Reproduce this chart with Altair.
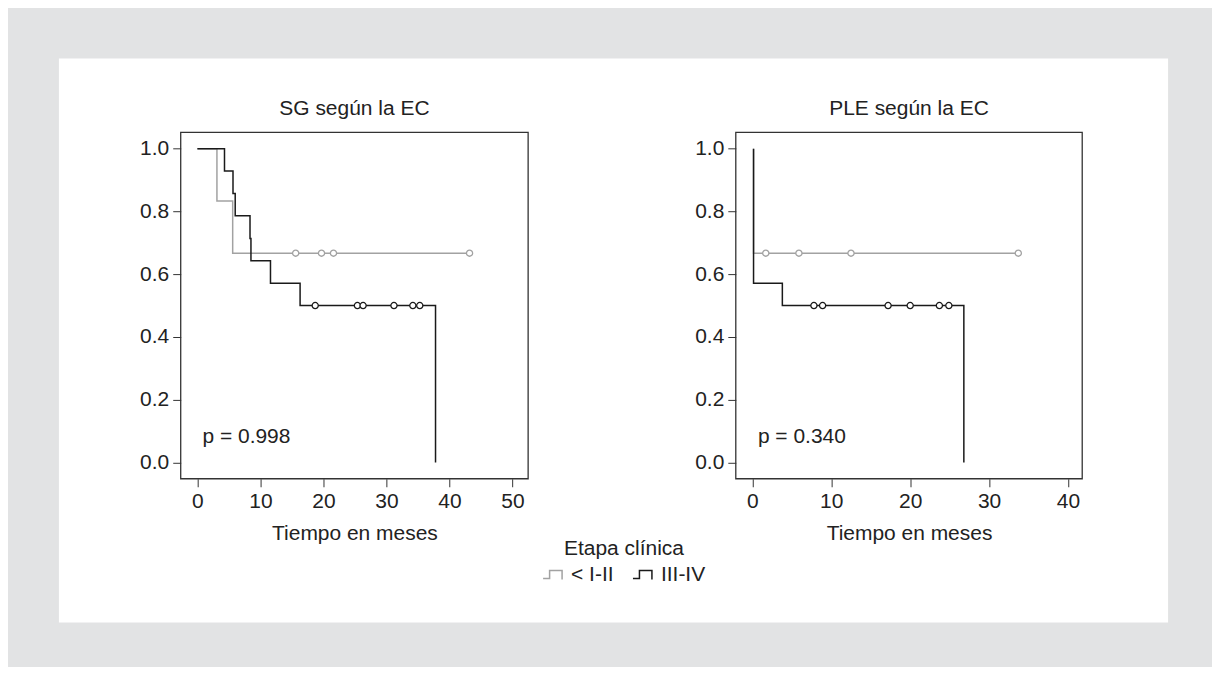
import altair as alt
import pandas as pd

FONT = "Liberation Sans"
FS = 21
GROUPS = ["< I-II", "III-IV"]
COLORS = ["#a2a2a2", "#1a1a1a"]

# --- SG según la EC (left) ---
sg_low_t = [0.0, 3.1, 5.6, 43.2]
sg_low_s = [1.0, 0.833, 0.667, 0.667]
sg_low_cens_t = [15.6, 19.7, 21.6, 43.2]
sg_low_cens_s = [0.667, 0.667, 0.667, 0.667]
sg_high_t = [0.0, 4.3, 5.65, 6.0, 8.35, 8.5, 11.6, 16.3, 37.8]
sg_high_s = [1.0, 0.929, 0.857, 0.786, 0.714, 0.643, 0.571, 0.5, 0.0]
sg_high_cens_t = [18.7, 25.4, 26.3, 31.2, 34.2, 35.3]
sg_high_cens_s = [0.5, 0.5, 0.5, 0.5, 0.5, 0.5]
sg_p = "p = 0.998"

# --- PLE según la EC (right) ---
ple_low_t = [0.15, 0.15, 33.7]
ple_low_s = [1.0, 0.667, 0.667]
ple_low_cens_t = [1.7, 5.9, 12.5, 33.7]
ple_low_cens_s = [0.667, 0.667, 0.667, 0.667]
ple_high_t = [0.15, 0.15, 3.8, 26.8]
ple_high_s = [1.0, 0.571, 0.5, 0.0]
ple_high_cens_t = [7.8, 8.9, 17.2, 20.0, 23.7, 24.9]
ple_high_cens_s = [0.5, 0.5, 0.5, 0.5, 0.5, 0.5]
ple_p = "p = 0.340"

x_ticks_sg = [0, 10, 20, 30, 40, 50]
x_ticks_ple = [0, 10, 20, 30, 40]
y_ticks = [0.0, 0.2, 0.4, 0.6, 0.8, 1.0]


def curve_df(t_low, s_low, t_high, s_high):
    rows = []
    for g, ts, ss in [(GROUPS[0], t_low, s_low), (GROUPS[1], t_high, s_high)]:
        for i, (t, s) in enumerate(zip(ts, ss)):
            rows.append({"group": g, "t": t, "s": s, "idx": i})
    return pd.DataFrame(rows)


def cens_df(t_low, s_low, t_high, s_high):
    rows = []
    for g, ts, ss in [(GROUPS[0], t_low, s_low), (GROUPS[1], t_high, s_high)]:
        for t, s in zip(ts, ss):
            rows.append({"group": g, "t": t, "s": s})
    return pd.DataFrame(rows)


color_scale = alt.Scale(domain=GROUPS, range=COLORS)
legend = alt.Legend(
    title="Etapa clínica",
    orient="none",
    legendX=362,
    legendY=406,
    direction="horizontal",
    titleAnchor="middle",
    symbolType="M-1,0.4L-0.35,0.4L-0.35,-0.4L0.9,-0.4L0.9,0.5",
    symbolSize=400,
    symbolStrokeWidth=1.5,
    labelFontSize=FS,
    titleFontSize=FS,
    titleFontWeight="normal",
    labelFont=FONT,
    titleFont=FONT,
    labelColor="#222222",
    titleColor="#222222",
    columnPadding=16,
    labelOffset=7,
    titlePadding=5,
)


def panel(curves, cens, ticks, domain, width, title, ptext, ptx, white_bg=False):
    xs = alt.Scale(domain=domain, nice=False, zero=False)
    ys = alt.Scale(domain=[-0.052, 1.052], nice=False, zero=False)
    xenc = alt.X("t:Q", scale=xs,
                 axis=alt.Axis(values=ticks, title="Tiempo en meses", format="d", zindex=2))
    yenc = alt.Y("s:Q", scale=ys,
                 axis=alt.Axis(values=y_ticks, format=".1f", title=None, zindex=2))
    lines = alt.Chart(curves).mark_line(interpolate="step-after", strokeWidth=1.5).encode(
        x=xenc, y=yenc,
        color=alt.Color("group:N", scale=color_scale, legend=legend),
        order=alt.Order("idx:Q"),
    )
    pts = alt.Chart(cens).mark_point(shape="circle", size=38, filled=True, fill="white",
                                     strokeWidth=1.3, opacity=1).encode(
        x=xenc, y=yenc,
        stroke=alt.Stroke("group:N", scale=color_scale, legend=None),
    )
    ptxt = alt.Chart(pd.DataFrame({"t": [ptx], "s": [0.08], "label": [ptext]})).mark_text(
        align="left", baseline="middle", fontSize=FS, font=FONT, color="#222222"
    ).encode(x=xenc, y=yenc, text="label:N")
    one = pd.DataFrame({"a": [0]})
    frame = alt.Chart(one).mark_rect(fill="transparent", stroke="#333333", strokeWidth=1.3).encode(
        x=alt.value(0), x2=alt.value("width"), y=alt.value(0), y2=alt.value("height")
    )
    ttl = alt.Chart(pd.DataFrame({"label": [title]})).mark_text(
        align="center", baseline="alphabetic", fontSize=FS, font=FONT, color="#222222"
    ).encode(x=alt.value(width / 2), y=alt.value(-17), text="label:N")
    layers = [lines, pts, ptxt, frame, ttl]
    if white_bg:
        bg = alt.Chart(one).mark_rect(fill="white").encode(
            x=alt.value(-122), x2=alt.value(989), y=alt.value(-74), y2=alt.value(491)
        )
        layers = [bg] + layers
    return alt.layer(*layers).properties(width=width, height=347)


left = panel(curve_df(sg_low_t, sg_low_s, sg_high_t, sg_high_s),
             cens_df(sg_low_cens_t, sg_low_cens_s, sg_high_cens_t, sg_high_cens_s),
             x_ticks_sg, [-2.65, 52.5], 348, "SG según la EC", sg_p, 0.8, white_bg=True)
right = panel(curve_df(ple_low_t, ple_low_s, ple_high_t, ple_high_s),
              cens_df(ple_low_cens_t, ple_low_cens_s, ple_high_cens_t, ple_high_cens_s),
              x_ticks_ple, [-2.1, 41.8], 347, "PLE según la EC", ple_p, 0.7)

chart = alt.hconcat(left, right, spacing=208, bounds="flush").properties(
    background="#e2e3e4",
    padding={"left": 50, "top": 49, "right": 43, "bottom": 43},
).configure_view(stroke="transparent").configure_axis(
    labelFont=FONT, titleFont=FONT, labelFontSize=FS, titleFontSize=FS,
    titleFontWeight="normal", labelColor="#222222", titleColor="#222222",
    tickColor="#333333", tickSize=8, tickWidth=1, domain=False, grid=False,
    labelPadding=4, titlePadding=11,
).configure_text(font=FONT)

chart.save("out.html", embed_options={"renderer": "svg", "actions": False})
